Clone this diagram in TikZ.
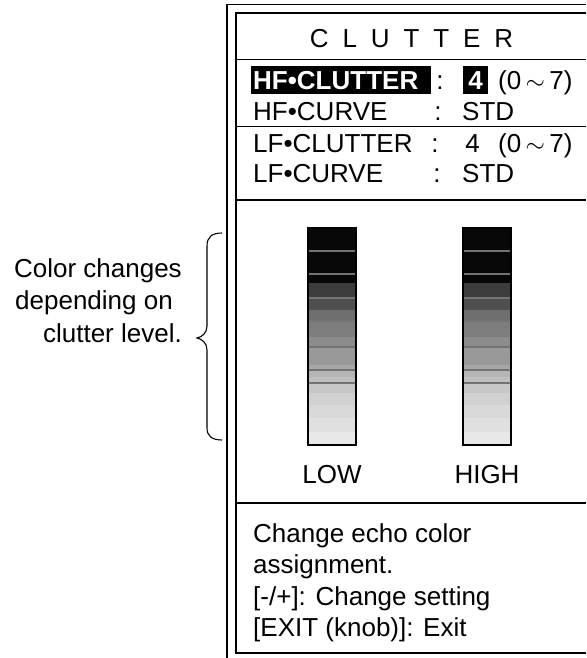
\documentclass[tikz,border=0pt]{standalone}
\usepackage{fontspec}
\setmainfont{Liberation Sans}
\newcommand\bigfs{\fontsize{26}{31}\selectfont}
\begin{document}
\begin{tikzpicture}[x=1pt,y=-1pt,
  txt/.style={font=\bigfs,inner sep=0pt,anchor=base west},
  frameline/.style={line width=1.5pt},
  divline/.style={line width=1.4pt},
  barline/.style={line width=1.2pt,draw={rgb,1:red,0.45;green,0.45;blue,0.45}},
  hl/.style={fill=black,inner sep=0pt}]
\useasboundingbox (0,0) rectangle (586,658);
% frames
\draw[frameline] (227,658) -- (227,4.7) -- (586,4.7);
\draw[frameline] (586,13) -- (236,13) -- (236,653) -- (586,653);
% dividers
\draw[divline] (236,59.5) -- (586,59.5);
\draw[divline] (236,126.5) -- (586,126.5);
\draw[divline] (236,200) -- (586,200);
\draw[divline] (236,503) -- (586,503);
% title
\node[txt,anchor=base] (title) at (411.5,48) {C\hspace{13.9pt}L\hspace{13.9pt}U\hspace{13.9pt}T\hspace{13.9pt}T\hspace{13.9pt}E\hspace{13.9pt}R};
% highlight boxes
\fill[hl] (251,66) rectangle (431,94.3);
\fill[hl] (463,66) rectangle (488,94.3);
% rows
\node[txt,text=white] (hfc) at (253,89.5) {\bfseries HF•CLUTTER};
\node[txt,anchor=base] (hfcc) at (440,89.5) {:};
\node[txt,anchor=base,text=white] (hfcv) at (475.5,89.5) {\bfseries 4};
\node[txt] (hfcr) at (498,89.5) {(0\,$\sim$\,7)};
\node[txt] (hfu) at (253,121) {HF•CURVE};
\node[txt,anchor=base] (hfuc) at (438,121) {:};
\node[txt] (hfuv) at (462,121) {STD};
\node[txt] (lfc) at (253,152) {LF•CLUTTER};
\node[txt,anchor=base] (lfcc) at (435,152) {:};
\node[txt,anchor=base] (lfcv) at (472.5,152) {4};
\node[txt] (lfcr) at (498,152) {(0\,$\sim$\,7)};
\node[txt] (lfu) at (253,182.5) {LF•CURVE};
\node[txt,anchor=base] (lfuc) at (437,182.5) {:};
\node[txt] (lfuv) at (462,182.5) {STD};
% bars
\foreach \xa/\xb in {308/356,463/511}{
  \foreach \ya/\yb/\g in {228/283/0.03,283/298/0.24,298/310/0.31,310/321/0.43,321/337/0.49,337/347/0.55,347/365/0.60,365/370/0.65,370/377/0.71,377/383/0.75,383/393/0.78,393/405/0.82,405/418/0.85,418/432/0.88,432/445/0.91}{
    \definecolor{stripe}{gray}{\g}
    \fill[stripe] (\xa,\ya) rectangle (\xb,\yb);
  }
  \foreach \yl in {251,274,298,321,347,370,383}{
    \draw[barline] (\xa,\yl) -- (\xb,\yl);
  }
  \draw[line width=1.6pt] (\xa,228) rectangle (\xb,445);
}
\node[txt,anchor=base] (low) at (332,483) {LOW};
\node[txt,anchor=base] (high) at (487,483) {HIGH};
% help text
\node[txt] (h1) at (253,542) {Change echo color};
\node[txt] (h2) at (253,573.5) {assignment.};
\node[txt] (h3) at (253,605) {[-/+]: Change setting};
\node[txt] (h4) at (253,636.5) {[EXIT (knob)]: Exit};
% annotation
\node[txt,anchor=base east] (a1) at (182,277) {Color changes};
\node[txt,anchor=base east] (a2) at (173,309.5) {depending on};
\node[txt,anchor=base east] (a3) at (182,342) {clutter level.};
% brace
\draw[line width=1.1pt] (222,233) .. controls (212,233) and (207,237) .. (207,246)
  -- (207,326) .. controls (207,333) and (202,337) .. (197,338)
  .. controls (202,339) and (207,343) .. (207,350)
  -- (207,428) .. controls (207,436) and (212,440) .. (222,440);
\end{tikzpicture}
\end{document}
